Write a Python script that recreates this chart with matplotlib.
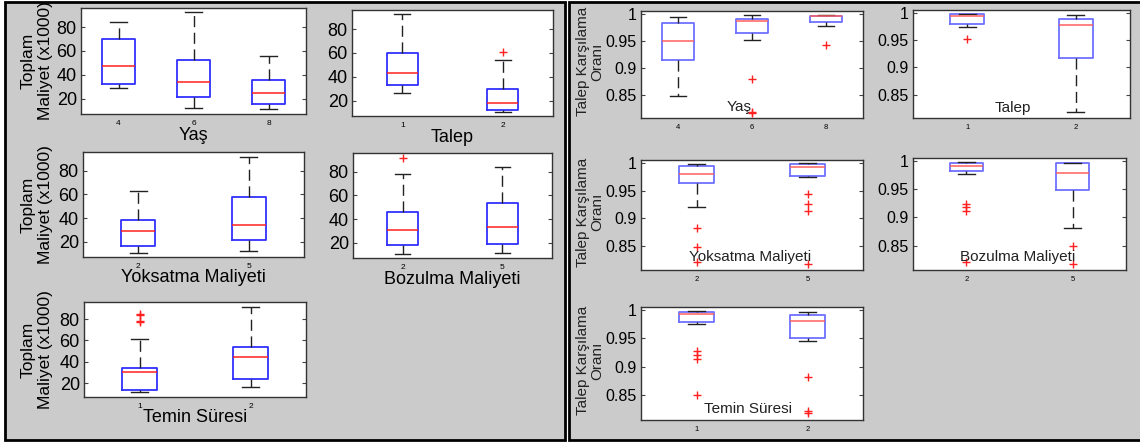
import matplotlib
matplotlib.use("Agg")
import matplotlib.pyplot as plt
from matplotlib.patches import Rectangle

plt.rcParams['font.family'] = ['Liberation Sans', 'DejaVu Sans']

W, H = 1140, 443

# ---- data ----
# each box: (whislo, q1, med, q3, whishi, fliers)
yas_ticks = ['4', '6', '8']
yas_cost = [(28.7, 32.6, 47.2, 69.9, 84.5, []),
            (11.9, 21.1, 34.0, 52.0, 92.3, []),
            (11.3, 15.5, 24.5, 35.4, 55.3, [])]
talep_ticks = ['1', '2']
talep_cost = [(26.5, 33.3, 42.9, 59.6, 92.5, []),
              (10.4, 12.4, 18.0, 29.6, 54.0, [61.0])]
yoksatma_ticks = ['2', '5']
yoksatma_cost = [(10.8, 16.4, 29.2, 38.3, 63.0, []),
                 (12.2, 21.4, 34.2, 57.5, 92.0, [])]
bozulma_ticks = ['2', '5']
bozulma_cost = [(10.8, 17.8, 31.1, 46.1, 78.6, [92.0]),
                (11.4, 19.2, 33.6, 53.9, 84.2, [])]
temin_ticks = ['1', '2']
temin_cost = [(11.4, 13.8, 30.2, 34.2, 60.9, [84.9, 83.4, 78.2, 76.9]),
              (16.0, 23.7, 44.3, 53.8, 91.7, [])]

yas_rate = [(0.8475, 0.915, 0.949, 0.982, 0.9938, []),
            (0.952, 0.964, 0.986, 0.991, 0.998, [0.880, 0.819, 0.816]),
            (0.977, 0.984, 0.9956, 0.996, 0.9975, [0.943])]
talep_rate = [(0.974, 0.979, 0.994, 0.997, 0.998, [0.952]),
              (0.8175, 0.917, 0.978, 0.989, 0.995, [])]
yoksatma_rate = [(0.921, 0.9635, 0.980, 0.9934, 0.997, [0.883, 0.849, 0.821]),
                 (0.974, 0.977, 0.9916, 0.9976, 0.9988, [0.944, 0.9265, 0.913, 0.817])]
bozulma_rate = [(0.977, 0.982, 0.990, 0.996, 0.998, [0.9235, 0.918, 0.912, 0.821]),
                (0.882, 0.949, 0.979, 0.996, 0.997, [0.850, 0.8176])]
temin_rate = [(0.9755, 0.978, 0.992, 0.996, 0.9977, [0.928, 0.921, 0.914, 0.850]),
              (0.946, 0.950, 0.980, 0.9914, 0.997, [0.883, 0.822, 0.820])]

cost_yticks = [20, 40, 60, 80]
rate_yticks = [0.85, 0.9, 0.95, 1.0]
rate_ylabels = ['0.85', '0.9', '0.95', '1']


def fx(x):
    return x / W


def fy(y):
    return 1 - y / H


def add_ax(fig, x0, y0, x1, y1):
    return fig.add_axes([fx(x0), fy(y1), (x1 - x0) / W, (y1 - y0) / H])


def draw_box(ax, data, ticks, boxcol, medcol):
    stats = []
    for lo, q1, med, q3, hi, fl in data:
        stats.append(dict(whislo=lo, q1=q1, med=med, q3=q3, whishi=hi, fliers=fl))
    n = len(data)
    w = 0.44 if n == 3 else 0.31
    ax.bxp(stats, positions=range(1, n + 1), widths=w, showfliers=True,
           boxprops=dict(color=boxcol, linewidth=1.3),
           medianprops=dict(color=medcol, linewidth=1.1),
           whiskerprops=dict(color='#222222', linewidth=1.0, linestyle=(0, (8, 4))),
           capprops=dict(color='#222222', linewidth=1.0),
           flierprops=dict(marker='+', markeredgecolor='#ff2020', markersize=6,
                           linestyle='none', markeredgewidth=1.0))
    ax.set_xlim(0.5, n + 0.5)
    ax.set_xticks(range(1, n + 1))
    ax.set_xticklabels(ticks, fontsize=6)
    ax.tick_params(axis='x', length=0, pad=4)
    ax.tick_params(axis='y', direction='in', right=True, length=3, width=0.8,
                   colors='#444444', labelcolor='black')
    for s in ax.spines.values():
        s.set_color('#333333')
        s.set_linewidth(1.0)


fig = plt.figure(figsize=(W / 100, H / 100), dpi=100)
fig.patch.set_facecolor('white')

# panel backgrounds
fig.patches.append(Rectangle((fx(5), fy(440)), (565 - 5) / W, 438 / H,
                             transform=fig.transFigure, facecolor='#cbcbcb',
                             edgecolor='black', linewidth=2, zorder=-1))
fig.patches.append(Rectangle((fx(569), fy(440)), (1145 - 569) / W, 438 / H,
                             transform=fig.transFigure, facecolor='#cbcbcb',
                             edgecolor='black', linewidth=2, zorder=-1))

# left panel: total cost
left_boxes = [
    ((81, 8, 306, 114), yas_cost, yas_ticks, 'Yaş', True),
    ((352, 10, 553, 116), talep_cost, talep_ticks, 'Talep', False),
    ((83, 152, 304, 257), yoksatma_cost, yoksatma_ticks, 'Yoksatma Maliyeti', True),
    ((353, 153, 552, 258), bozulma_cost, bozulma_ticks, 'Bozulma Maliyeti', False),
    ((84, 302, 306, 397), temin_cost, temin_ticks, 'Temin Süresi', True),
]
for (x0, y0, x1, y1), data, ticks, name, lab in left_boxes:
    ax = add_ax(fig, x0, y0, x1, y1)
    draw_box(ax, data, ticks, '#3030ff', '#ff2020')
    ax.set_ylim(7, 96)
    ax.set_yticks(cost_yticks)
    ax.tick_params(axis='y', labelsize=13, pad=3)
    fig.text(fx((x0 + x1) / 2), fy(y1 + 21), name, ha='center', va='center',
             fontsize=13)
    if lab:
        fig.text(fx(37), fy((y0 + y1) / 2), 'Toplam\nMaliyet (x1000)',
                 rotation=90, ha='center', va='center', fontsize=12.5,
                 linespacing=1.15)

# right panel: demand fill rate
right_boxes = [
    ((641, 11, 863, 118), yas_rate, yas_ticks, 'Yaş', 0.44, 0.10, True),
    ((913, 10, 1130, 118), talep_rate, talep_ticks, 'Talep', 0.46, 0.09, False),
    ((641, 160, 863, 270), yoksatma_rate, yoksatma_ticks, 'Yoksatma Maliyeti', 0.49, 0.12, True),
    ((913, 158, 1126, 270), bozulma_rate, bozulma_ticks, 'Bozulma Maliyeti', 0.49, 0.12, False),
    ((641, 307, 863, 420), temin_rate, temin_ticks, 'Temin Süresi', 0.48, 0.10, True),
]
for (x0, y0, x1, y1), data, ticks, name, tx, ty, lab in right_boxes:
    ax = add_ax(fig, x0, y0, x1, y1)
    draw_box(ax, data, ticks, '#7070ff', '#ff6060')
    ax.set_ylim(0.807, 1.005)
    ax.set_yticks(rate_yticks)
    ax.set_yticklabels(rate_ylabels)
    ax.tick_params(axis='y', labelsize=11.5, pad=3)
    ax.tick_params(axis='x', labelsize=5.5)
    ax.text(tx, ty, name, transform=ax.transAxes, ha='center', va='center',
            fontsize=11, color='#222222')
    if lab:
        fig.text(fx(590), fy((y0 + y1) / 2 - 3), 'Talep Karşılama\nOranı',
                 rotation=90, ha='center', va='center', fontsize=11,
                 linespacing=1.05, color='#222222')

fig.savefig('out.png', dpi=100)
